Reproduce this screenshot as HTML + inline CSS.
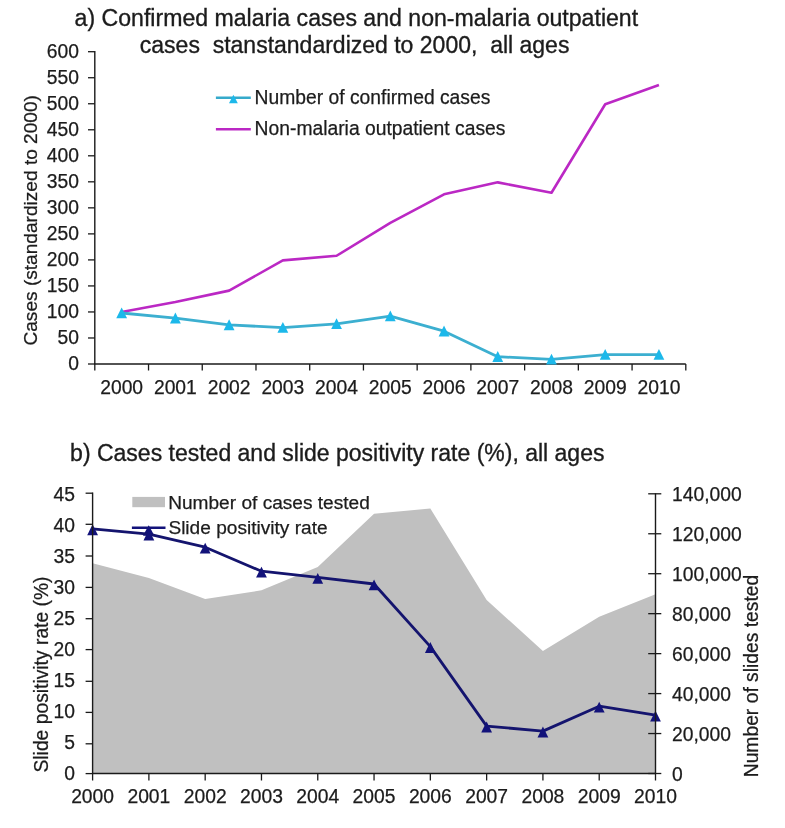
<!DOCTYPE html>
<html><head><meta charset="utf-8"><title>Malaria charts</title>
<style>
html,body{margin:0;padding:0;background:#fff;}
body{width:785px;height:828px;overflow:hidden;}
svg{display:block;will-change:transform;}
text{font-family:"Liberation Sans", sans-serif;fill:#1c1c1c;stroke:#1c1c1c;stroke-width:0.25px;}
.t{stroke:#1c1c1c;stroke-width:0.35px;}
</style></head><body>
<svg width="785" height="828" viewBox="0 0 785 828">
<rect width="785" height="828" fill="#fff"/>

<text x="74.6" y="26.4" font-size="23.1" class="t">a) Confirmed malaria cases and non-malaria outpatient</text>
<text x="139.8" y="52.6" font-size="23" class="t" xml:space="preserve">cases  stanstandardized to 2000,  all ages</text>
<line x1="94.8" y1="51.1" x2="94.8" y2="364.0" stroke="#1a1a1a" stroke-width="1.4"/>
<line x1="88" y1="364.00" x2="94.8" y2="364.00" stroke="#1a1a1a" stroke-width="1.3"/>
<text x="79" y="370.10" font-size="19.3" text-anchor="end">0</text>
<line x1="88" y1="337.98" x2="94.8" y2="337.98" stroke="#1a1a1a" stroke-width="1.3"/>
<text x="79" y="344.08" font-size="19.3" text-anchor="end">50</text>
<line x1="88" y1="311.95" x2="94.8" y2="311.95" stroke="#1a1a1a" stroke-width="1.3"/>
<text x="79" y="318.05" font-size="19.3" text-anchor="end">100</text>
<line x1="88" y1="285.93" x2="94.8" y2="285.93" stroke="#1a1a1a" stroke-width="1.3"/>
<text x="79" y="292.03" font-size="19.3" text-anchor="end">150</text>
<line x1="88" y1="259.90" x2="94.8" y2="259.90" stroke="#1a1a1a" stroke-width="1.3"/>
<text x="79" y="266.00" font-size="19.3" text-anchor="end">200</text>
<line x1="88" y1="233.88" x2="94.8" y2="233.88" stroke="#1a1a1a" stroke-width="1.3"/>
<text x="79" y="239.97" font-size="19.3" text-anchor="end">250</text>
<line x1="88" y1="207.85" x2="94.8" y2="207.85" stroke="#1a1a1a" stroke-width="1.3"/>
<text x="79" y="213.95" font-size="19.3" text-anchor="end">300</text>
<line x1="88" y1="181.82" x2="94.8" y2="181.82" stroke="#1a1a1a" stroke-width="1.3"/>
<text x="79" y="187.92" font-size="19.3" text-anchor="end">350</text>
<line x1="88" y1="155.80" x2="94.8" y2="155.80" stroke="#1a1a1a" stroke-width="1.3"/>
<text x="79" y="161.90" font-size="19.3" text-anchor="end">400</text>
<line x1="88" y1="129.78" x2="94.8" y2="129.78" stroke="#1a1a1a" stroke-width="1.3"/>
<text x="79" y="135.88" font-size="19.3" text-anchor="end">450</text>
<line x1="88" y1="103.75" x2="94.8" y2="103.75" stroke="#1a1a1a" stroke-width="1.3"/>
<text x="79" y="109.85" font-size="19.3" text-anchor="end">500</text>
<line x1="88" y1="77.73" x2="94.8" y2="77.73" stroke="#1a1a1a" stroke-width="1.3"/>
<text x="79" y="83.83" font-size="19.3" text-anchor="end">550</text>
<line x1="88" y1="51.70" x2="94.8" y2="51.70" stroke="#1a1a1a" stroke-width="1.3"/>
<text x="79" y="57.80" font-size="19.3" text-anchor="end">600</text>
<line x1="94.1" y1="364.0" x2="685.8" y2="364.0" stroke="#1a1a1a" stroke-width="1.4"/>
<line x1="94.80" y1="364.0" x2="94.80" y2="370.5" stroke="#1a1a1a" stroke-width="1.3"/>
<line x1="148.53" y1="364.0" x2="148.53" y2="370.5" stroke="#1a1a1a" stroke-width="1.3"/>
<line x1="202.25" y1="364.0" x2="202.25" y2="370.5" stroke="#1a1a1a" stroke-width="1.3"/>
<line x1="255.98" y1="364.0" x2="255.98" y2="370.5" stroke="#1a1a1a" stroke-width="1.3"/>
<line x1="309.71" y1="364.0" x2="309.71" y2="370.5" stroke="#1a1a1a" stroke-width="1.3"/>
<line x1="363.44" y1="364.0" x2="363.44" y2="370.5" stroke="#1a1a1a" stroke-width="1.3"/>
<line x1="417.16" y1="364.0" x2="417.16" y2="370.5" stroke="#1a1a1a" stroke-width="1.3"/>
<line x1="470.89" y1="364.0" x2="470.89" y2="370.5" stroke="#1a1a1a" stroke-width="1.3"/>
<line x1="524.62" y1="364.0" x2="524.62" y2="370.5" stroke="#1a1a1a" stroke-width="1.3"/>
<line x1="578.35" y1="364.0" x2="578.35" y2="370.5" stroke="#1a1a1a" stroke-width="1.3"/>
<line x1="632.07" y1="364.0" x2="632.07" y2="370.5" stroke="#1a1a1a" stroke-width="1.3"/>
<line x1="685.80" y1="364.0" x2="685.80" y2="370.5" stroke="#1a1a1a" stroke-width="1.3"/>
<text x="121.66" y="393.5" font-size="19.3" text-anchor="middle">2000</text>
<text x="175.39" y="393.5" font-size="19.3" text-anchor="middle">2001</text>
<text x="229.12" y="393.5" font-size="19.3" text-anchor="middle">2002</text>
<text x="282.85" y="393.5" font-size="19.3" text-anchor="middle">2003</text>
<text x="336.57" y="393.5" font-size="19.3" text-anchor="middle">2004</text>
<text x="390.30" y="393.5" font-size="19.3" text-anchor="middle">2005</text>
<text x="444.03" y="393.5" font-size="19.3" text-anchor="middle">2006</text>
<text x="497.75" y="393.5" font-size="19.3" text-anchor="middle">2007</text>
<text x="551.48" y="393.5" font-size="19.3" text-anchor="middle">2008</text>
<text x="605.21" y="393.5" font-size="19.3" text-anchor="middle">2009</text>
<text x="658.94" y="393.5" font-size="19.3" text-anchor="middle">2010</text>
<text transform="translate(37.2,220.3) rotate(-90)" font-size="19.1" text-anchor="middle">Cases (standardized to 2000)</text>
<polyline points="121.66,311.95 175.39,302.06 229.12,290.61 282.85,260.42 336.57,255.74 390.30,222.94 444.03,194.32 497.75,182.35 551.48,192.76 605.21,104.27 658.94,85.01" fill="none" stroke="#bb28c4" stroke-width="2.6" stroke-linejoin="round"/>
<polyline points="121.66,312.99 175.39,318.20 229.12,324.96 282.85,327.56 336.57,323.92 390.30,316.11 444.03,331.21 497.75,356.71 551.48,359.32 605.21,354.63 658.94,354.63" fill="none" stroke="#3cafd0" stroke-width="2.8" stroke-linejoin="round"/>
<polygon points="116.26,318.19 127.06,318.19 121.66,307.39" fill="#1cb8ea"/>
<polygon points="169.99,323.40 180.79,323.40 175.39,312.60" fill="#1cb8ea"/>
<polygon points="223.72,330.16 234.52,330.16 229.12,319.36" fill="#1cb8ea"/>
<polygon points="277.45,332.76 288.25,332.76 282.85,321.97" fill="#1cb8ea"/>
<polygon points="331.17,329.12 341.97,329.12 336.57,318.32" fill="#1cb8ea"/>
<polygon points="384.90,321.31 395.70,321.31 390.30,310.51" fill="#1cb8ea"/>
<polygon points="438.63,336.41 449.43,336.41 444.03,325.61" fill="#1cb8ea"/>
<polygon points="492.35,361.91 503.15,361.91 497.75,351.11" fill="#1cb8ea"/>
<polygon points="546.08,364.52 556.88,364.52 551.48,353.72" fill="#1cb8ea"/>
<polygon points="599.81,359.83 610.61,359.83 605.21,349.03" fill="#1cb8ea"/>
<polygon points="653.54,359.83 664.34,359.83 658.94,349.03" fill="#1cb8ea"/>
<line x1="215.9" y1="97.7" x2="250.8" y2="97.7" stroke="#35aacb" stroke-width="2.4"/>
<polygon points="229.00,103.30 237.80,103.30 233.40,94.70" fill="#1cb8ea"/>
<text x="254.6" y="104.4" font-size="19.3">Number of confirmed cases</text>
<line x1="215.9" y1="129.3" x2="250.8" y2="129.3" stroke="#bb28c4" stroke-width="2.6"/>
<text x="254.6" y="135.4" font-size="19.3">Non-malaria outpatient cases</text>
<text x="70.1" y="461.1" font-size="23" class="t">b) Cases tested and slide positivity rate (%), all ages</text>
<polygon points="92.60,773.5 92.60,563.27 148.89,577.89 205.18,599.11 261.47,590.30 317.76,567.08 374.05,513.82 430.34,508.42 486.63,599.91 542.92,651.07 599.21,616.63 655.50,594.21 655.50,773.5" fill="#c0c0c0"/>
<rect x="132.3" y="496.9" width="32.7" height="10.3" fill="#c0c0c0"/>
<text x="168.2" y="508.5" font-size="19.1">Number of cases tested</text>
<line x1="131.9" y1="527.8" x2="165.5" y2="527.8" stroke="#12127a" stroke-width="2.6"/>
<polygon points="142.95,535.85 154.45,535.85 148.70,525.15" fill="#12127a"/>
<text x="168.4" y="533.9" font-size="19.1">Slide positivity rate</text>
<polyline points="92.60,528.84 148.89,534.14 205.18,547.23 261.47,571.23 317.76,577.46 374.05,584.01 430.34,646.65 486.63,726.13 542.92,731.11 599.21,706.18 655.50,715.22" fill="none" stroke="#14146e" stroke-width="2.8" stroke-linejoin="round"/>
<polygon points="87.20,535.19 98.00,535.19 92.60,524.29" fill="#12127a"/>
<polygon points="143.49,540.49 154.29,540.49 148.89,529.59" fill="#12127a"/>
<polygon points="199.78,553.58 210.58,553.58 205.18,542.68" fill="#12127a"/>
<polygon points="256.07,577.58 266.87,577.58 261.47,566.68" fill="#12127a"/>
<polygon points="312.36,583.81 323.16,583.81 317.76,572.91" fill="#12127a"/>
<polygon points="368.65,590.36 379.45,590.36 374.05,579.46" fill="#12127a"/>
<polygon points="424.94,653.00 435.74,653.00 430.34,642.10" fill="#12127a"/>
<polygon points="481.23,732.48 492.03,732.48 486.63,721.58" fill="#12127a"/>
<polygon points="537.52,737.46 548.32,737.46 542.92,726.56" fill="#12127a"/>
<polygon points="593.81,712.53 604.61,712.53 599.21,701.63" fill="#12127a"/>
<polygon points="650.10,721.57 660.90,721.57 655.50,710.67" fill="#12127a"/>
<line x1="92.6" y1="492.4" x2="92.6" y2="773.5" stroke="#1a1a1a" stroke-width="1.4"/>
<line x1="85.6" y1="773.60" x2="92.6" y2="773.60" stroke="#1a1a1a" stroke-width="1.3"/>
<text x="75" y="779.50" font-size="19.3" text-anchor="end">0</text>
<line x1="85.6" y1="743.80" x2="92.6" y2="743.80" stroke="#1a1a1a" stroke-width="1.3"/>
<text x="75" y="748.51" font-size="19.3" text-anchor="end">5</text>
<line x1="85.6" y1="712.40" x2="92.6" y2="712.40" stroke="#1a1a1a" stroke-width="1.3"/>
<text x="75" y="717.52" font-size="19.3" text-anchor="end">10</text>
<line x1="85.6" y1="681.30" x2="92.6" y2="681.30" stroke="#1a1a1a" stroke-width="1.3"/>
<text x="75" y="686.53" font-size="19.3" text-anchor="end">15</text>
<line x1="85.6" y1="649.60" x2="92.6" y2="649.60" stroke="#1a1a1a" stroke-width="1.3"/>
<text x="75" y="655.54" font-size="19.3" text-anchor="end">20</text>
<line x1="85.6" y1="618.70" x2="92.6" y2="618.70" stroke="#1a1a1a" stroke-width="1.3"/>
<text x="75" y="624.55" font-size="19.3" text-anchor="end">25</text>
<line x1="85.6" y1="587.40" x2="92.6" y2="587.40" stroke="#1a1a1a" stroke-width="1.3"/>
<text x="75" y="593.56" font-size="19.3" text-anchor="end">30</text>
<line x1="85.6" y1="556.00" x2="92.6" y2="556.00" stroke="#1a1a1a" stroke-width="1.3"/>
<text x="75" y="562.57" font-size="19.3" text-anchor="end">35</text>
<line x1="85.6" y1="524.30" x2="92.6" y2="524.30" stroke="#1a1a1a" stroke-width="1.3"/>
<text x="75" y="531.58" font-size="19.3" text-anchor="end">40</text>
<line x1="85.6" y1="493.20" x2="92.6" y2="493.20" stroke="#1a1a1a" stroke-width="1.3"/>
<text x="75" y="500.59" font-size="19.3" text-anchor="end">45</text>
<line x1="655.5" y1="493.2" x2="655.5" y2="773.5" stroke="#1a1a1a" stroke-width="1.4"/>
<line x1="648.2" y1="773.50" x2="661.3" y2="773.50" stroke="#1a1a1a" stroke-width="1.3"/>
<text x="672" y="780.60" font-size="19.3">0</text>
<line x1="648.2" y1="733.54" x2="661.3" y2="733.54" stroke="#1a1a1a" stroke-width="1.3"/>
<text x="672" y="740.64" font-size="19.3">20,000</text>
<line x1="648.2" y1="693.59" x2="661.3" y2="693.59" stroke="#1a1a1a" stroke-width="1.3"/>
<text x="672" y="700.69" font-size="19.3">40,000</text>
<line x1="648.2" y1="653.63" x2="661.3" y2="653.63" stroke="#1a1a1a" stroke-width="1.3"/>
<text x="672" y="660.73" font-size="19.3">60,000</text>
<line x1="648.2" y1="613.67" x2="661.3" y2="613.67" stroke="#1a1a1a" stroke-width="1.3"/>
<text x="672" y="620.77" font-size="19.3">80,000</text>
<line x1="648.2" y1="573.71" x2="661.3" y2="573.71" stroke="#1a1a1a" stroke-width="1.3"/>
<text x="672" y="580.81" font-size="19.3">100,000</text>
<line x1="648.2" y1="533.76" x2="661.3" y2="533.76" stroke="#1a1a1a" stroke-width="1.3"/>
<text x="672" y="540.86" font-size="19.3">120,000</text>
<line x1="648.2" y1="493.80" x2="661.3" y2="493.80" stroke="#1a1a1a" stroke-width="1.3"/>
<text x="672" y="500.90" font-size="19.3">140,000</text>
<line x1="91.89999999999999" y1="773.5" x2="655.5" y2="773.5" stroke="#1a1a1a" stroke-width="1.4"/>
<line x1="92.60" y1="773.5" x2="92.60" y2="780.5" stroke="#1a1a1a" stroke-width="1.3"/>
<text x="92.60" y="802.9" font-size="19.3" text-anchor="middle">2000</text>
<line x1="148.89" y1="773.5" x2="148.89" y2="780.5" stroke="#1a1a1a" stroke-width="1.3"/>
<text x="148.89" y="802.9" font-size="19.3" text-anchor="middle">2001</text>
<line x1="205.18" y1="773.5" x2="205.18" y2="780.5" stroke="#1a1a1a" stroke-width="1.3"/>
<text x="205.18" y="802.9" font-size="19.3" text-anchor="middle">2002</text>
<line x1="261.47" y1="773.5" x2="261.47" y2="780.5" stroke="#1a1a1a" stroke-width="1.3"/>
<text x="261.47" y="802.9" font-size="19.3" text-anchor="middle">2003</text>
<line x1="317.76" y1="773.5" x2="317.76" y2="780.5" stroke="#1a1a1a" stroke-width="1.3"/>
<text x="317.76" y="802.9" font-size="19.3" text-anchor="middle">2004</text>
<line x1="374.05" y1="773.5" x2="374.05" y2="780.5" stroke="#1a1a1a" stroke-width="1.3"/>
<text x="374.05" y="802.9" font-size="19.3" text-anchor="middle">2005</text>
<line x1="430.34" y1="773.5" x2="430.34" y2="780.5" stroke="#1a1a1a" stroke-width="1.3"/>
<text x="430.34" y="802.9" font-size="19.3" text-anchor="middle">2006</text>
<line x1="486.63" y1="773.5" x2="486.63" y2="780.5" stroke="#1a1a1a" stroke-width="1.3"/>
<text x="486.63" y="802.9" font-size="19.3" text-anchor="middle">2007</text>
<line x1="542.92" y1="773.5" x2="542.92" y2="780.5" stroke="#1a1a1a" stroke-width="1.3"/>
<text x="542.92" y="802.9" font-size="19.3" text-anchor="middle">2008</text>
<line x1="599.21" y1="773.5" x2="599.21" y2="780.5" stroke="#1a1a1a" stroke-width="1.3"/>
<text x="599.21" y="802.9" font-size="19.3" text-anchor="middle">2009</text>
<line x1="655.50" y1="773.5" x2="655.50" y2="780.5" stroke="#1a1a1a" stroke-width="1.3"/>
<text x="655.50" y="802.9" font-size="19.3" text-anchor="middle">2010</text>
<text transform="translate(48.2,674.5) rotate(-90)" font-size="19.3" text-anchor="middle">Slide positivity rate (%)</text>
<text transform="translate(757.9,676) rotate(-90)" font-size="19.3" text-anchor="middle">Number of slides tested</text>
</svg>
</body></html>
